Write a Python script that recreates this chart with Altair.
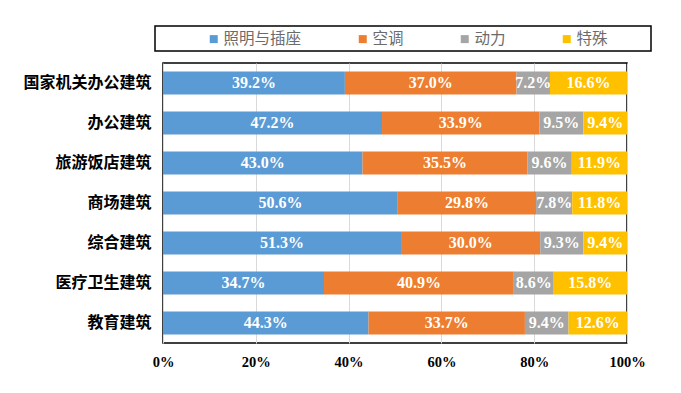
import altair as alt
import pandas as pd

categories = ["国家机关办公建筑", "办公建筑", "旅游饭店建筑", "商场建筑", "综合建筑", "医疗卫生建筑", "教育建筑"]
series_names = ["照明与插座", "空调", "动力", "特殊"]
lighting = [39.2, 47.2, 43.0, 50.6, 51.3, 34.7, 44.3]
aircon = [37.0, 33.9, 35.5, 29.8, 30.0, 40.9, 33.7]
power = [7.2, 9.5, 9.6, 7.8, 9.3, 8.6, 9.4]
special = [16.6, 9.4, 11.9, 11.8, 9.4, 15.8, 12.6]
colors = ["#5B9BD5", "#ED7D31", "#A5A5A5", "#FFC000"]
x_ticks = [0, 0.2, 0.4, 0.6, 0.8, 1.0]

rows = []
for si, (name, vals) in enumerate(zip(series_names, [lighting, aircon, power, special])):
    for ci, cat in enumerate(categories):
        rows.append({"cat": cat, "series": name, "order": si, "value": vals[ci]})
df = pd.DataFrame(rows)

base = alt.Chart(df).transform_calculate(
    frac="datum.value / 100",
    label="format(datum.value, '.1f') + '%'",
).transform_window(
    cum="sum(frac)",
    sort=[alt.SortField("order")],
    groupby=["cat"],
    frame=[None, 0],
).transform_calculate(
    mid="datum.cum - datum.frac / 2"
)

y_enc = alt.Y(
    "cat:N",
    sort=categories,
    title=None,
    scale=alt.Scale(paddingInner=0.43, paddingOuter=0.215),
    axis=alt.Axis(
        domain=False, ticks=False, grid=False, labelPadding=12,
        labelFont="Noto Sans CJK SC", labelFontSize=16, labelFontWeight="bold",
        labelColor="#000000",
    ),
)

bars = base.mark_bar().encode(
    x=alt.X(
        "frac:Q",
        stack="zero",
        title=None,
        scale=alt.Scale(domain=[0, 1], nice=False),
        axis=alt.Axis(
            values=x_ticks, format=".0%", domain=False, ticks=False,
            grid=True, gridColor="#d9d9d9", gridWidth=1,
            labelFont="Liberation Serif", labelFontSize=14.5, labelFontWeight="bold",
            labelColor="#000000", labelPadding=12, labelFlush=False, labelBound=False,
        ),
    ),
    y=y_enc,
    color=alt.Color(
        "series:N",
        scale=alt.Scale(domain=series_names, range=colors),
        legend=alt.Legend(
            title=None,
            orient="none",
            direction="horizontal",
            legendX=-4,
            legendY=-37,
            symbolType="square",
            symbolSize=64,
            symbolStrokeWidth=0,
            symbolOffset=42,
            labelOffset=2,
            columnPadding=11,
            labelFont="Noto Sans CJK SC",
            labelFontSize=15.5,
            labelColor="#6b6b6b",
            padding=5,
        ),
    ),
    order=alt.Order("order:Q"),
)

texts = base.mark_text(
    font="Liberation Serif", fontSize=16, fontWeight="bold", color="#ffffff",
    baseline="middle", align="center",
).encode(
    x=alt.X("mid:Q"),
    y=alt.Y("cat:N", sort=categories),
    text="label:N",
)

# decorative frame around the legend (pixel offsets relative to the plot area)
legend_frame = alt.Chart(pd.DataFrame({"k": [0]})).mark_rect(
    fillOpacity=0, stroke="#000000", strokeWidth=1.5
).encode(
    x=alt.value(-8), x2=alt.value(488), y=alt.value(-37), y2=alt.value(-12)
)

chart = alt.layer(bars, texts, legend_frame).properties(
    width=464,
    height=280,
    autosize=alt.AutoSizeParams(type="none"),
    padding={"left": 155, "top": 55, "right": 46, "bottom": 42},
).configure_view(
    stroke="#000000", strokeWidth=1.5
)

chart.save("out.html", embed_options={"renderer": "svg", "actions": False})
